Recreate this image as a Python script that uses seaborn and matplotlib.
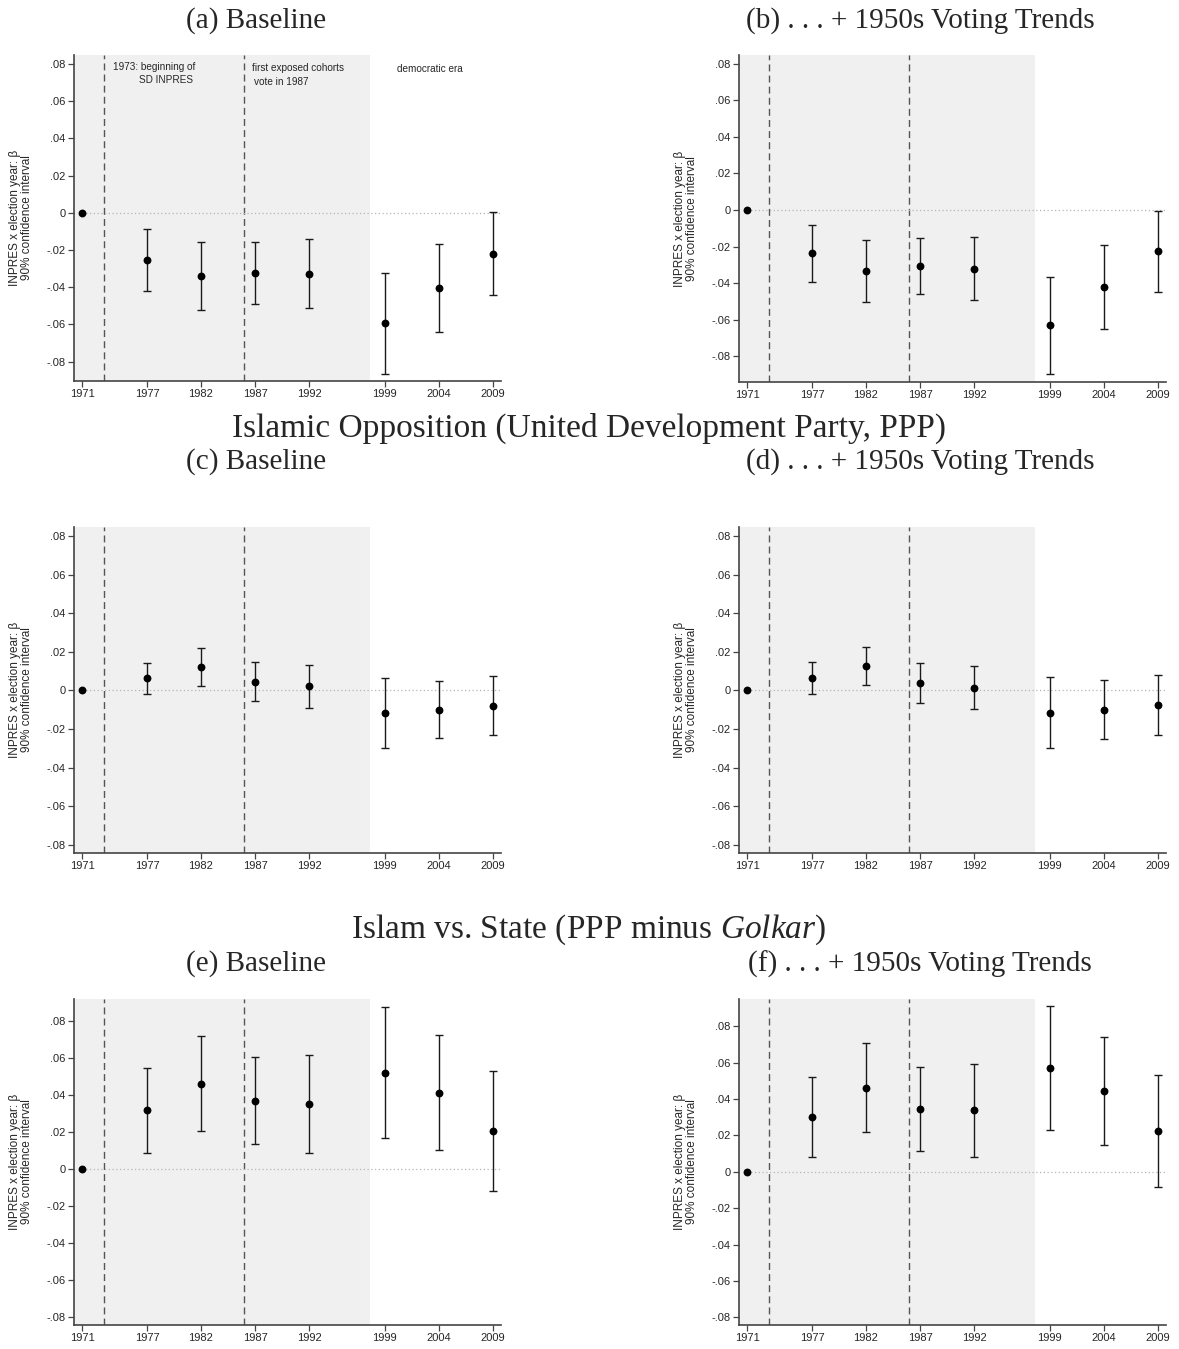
import numpy as np
import pandas as pd
import matplotlib
matplotlib.use("Agg")
import matplotlib.pyplot as plt
from matplotlib.ticker import FuncFormatter
import seaborn as sns

# DATA
years = [1971, 1977, 1982, 1987, 1992, 1999, 2004, 2009]

# (a) PPP baseline
a_coef = [0, -0.0253, -0.0341, -0.0323, -0.0328, -0.0594, -0.0404, -0.0221]
a_lo = [np.nan, -0.0420, -0.0524, -0.0488, -0.0511, -0.0866, -0.0640, -0.0443]
a_hi = [np.nan, -0.0086, -0.0158, -0.0158, -0.0142, -0.0321, -0.0167, 0.0002]
# (b) + 1950s voting trends
b_coef = [0, -0.0237, -0.0336, -0.0305, -0.0321, -0.0632, -0.0422, -0.0226]
b_lo = [np.nan, -0.0393, -0.0502, -0.0458, -0.0493, -0.0897, -0.0654, -0.0449]
b_hi = [np.nan, -0.0084, -0.0166, -0.0152, -0.0148, -0.0365, -0.0194, -0.0005]
# (c) Islamic opposition baseline
c_coef = [0, 0.0062, 0.0121, 0.0045, 0.0022, -0.0117, -0.0100, -0.0079]
c_lo = [np.nan, -0.0017, 0.0022, -0.0055, -0.0090, -0.0298, -0.0247, -0.0231]
c_hi = [np.nan, 0.0143, 0.0221, 0.0147, 0.0134, 0.0062, 0.0047, 0.0076]
# (d)
d_coef = [0, 0.0064, 0.0126, 0.0036, 0.0014, -0.0116, -0.0100, -0.0078]
d_lo = [np.nan, -0.0017, 0.0026, -0.0066, -0.0095, -0.0298, -0.0252, -0.0233]
d_hi = [np.nan, 0.0145, 0.0226, 0.0140, 0.0126, 0.0067, 0.0053, 0.0081]
# (e) Islam vs state baseline
e_coef = [0, 0.0315, 0.0459, 0.0368, 0.0348, 0.0519, 0.0411, 0.0204]
e_lo = [np.nan, 0.0085, 0.0204, 0.0133, 0.0083, 0.0164, 0.0101, -0.0121]
e_hi = [np.nan, 0.0544, 0.0717, 0.0602, 0.0614, 0.0876, 0.0724, 0.0530]
# (f)
f_coef = [0, 0.0300, 0.0461, 0.0342, 0.0337, 0.0568, 0.0441, 0.0222]
f_lo = [np.nan, 0.0081, 0.0218, 0.0112, 0.0081, 0.0231, 0.0148, -0.0086]
f_hi = [np.nan, 0.0522, 0.0707, 0.0573, 0.0593, 0.0908, 0.0738, 0.0529]

panel_titles = ["(a) Baseline", "(b) . . . + 1950s Voting Trends",
                "(c) Baseline", "(d) . . . + 1950s Voting Trends",
                "(e) Baseline", "(f) . . . + 1950s Voting Trends"]
group_titles = ["Islamic Opposition (United Development Party, PPP)",
                r"Islam vs. State (PPP minus $\mathit{Golkar}$)"]
ylab = "INPRES x election year: \u03b2\n90% confidence interval"

# STYLE
sns.set_style("ticks")
plt.rcParams["font.family"] = ["Liberation Sans", "DejaVu Sans"]
plt.rcParams["mathtext.fontset"] = "custom"
plt.rcParams["mathtext.rm"] = "Liberation Serif"
plt.rcParams["mathtext.it"] = "Liberation Serif:italic"

W, H = 1179, 1349
fig = plt.figure(figsize=(W / 100, H / 100), dpi=100)

panels = [
    (a_coef, a_lo, a_hi, 74, 55, 381, (-0.0904, 0.0848)),
    (b_coef, b_lo, b_hi, 739, 55, 382, (-0.0942, 0.0849)),
    (c_coef, c_lo, c_hi, 74, 527, 853, (-0.0843, 0.0847)),
    (d_coef, d_lo, d_hi, 739, 527, 853, (-0.0843, 0.0847)),
    (e_coef, e_lo, e_hi, 74, 999, 1325, (-0.0845, 0.0917)),
    (f_coef, f_lo, f_hi, 739, 999, 1325, (-0.0842, 0.0949)),
]

xlim = (1970.25, 2009.75)
fmt = FuncFormatter(lambda v, p: "0" if abs(v) < 1e-9 else f"{v:.2f}".replace("0.", "."))

axes = []
for coef, lo, hi, x0, top, bot, ylim in panels:
    ax = fig.add_axes([x0 / W, 1 - bot / H, 427 / W, (bot - top) / H])
    df = pd.DataFrame({"year": years, "coef": coef, "lo": lo, "hi": hi})

    # shaded autocratic period, program start and first exposed cohort
    ax.axvspan(xlim[0], 1997.6, color="#f0f0f0", lw=0, zorder=0)
    for xv in (1973, 1986):
        ax.axvline(xv, color="#555555", lw=1, ls=(0, (5, 3)), zorder=1)
    ax.hlines(0, years[0], xlim[1], color="#b5b5b5", lw=0.9, ls=(0, (1, 2)), zorder=1)

    ax.errorbar(df["year"], df["coef"], yerr=[df["coef"] - df["lo"], df["hi"] - df["coef"]],
                fmt="none", ecolor="#1a1a1a", elinewidth=1, capsize=2.6, capthick=1, zorder=2)
    sns.scatterplot(data=df, x="year", y="coef", ax=ax, color="black", s=32,
                    edgecolor="black", linewidth=0, zorder=3)

    ax.set_xlim(xlim)
    ax.set_ylim(ylim)
    ax.set_xticks(years)
    ax.set_yticks(np.arange(-0.08, 0.0801, 0.02))
    ax.yaxis.set_major_formatter(fmt)
    ax.tick_params(labelsize=8, length=4, width=0.9, color="#444444", pad=2)
    for s in ("top", "right"):
        ax.spines[s].set_visible(False)
    for s in ("left", "bottom"):
        ax.spines[s].set_color("#444444")
        ax.spines[s].set_linewidth(1.2)
    ax.set_xlabel("")
    ax.set_ylabel(ylab, fontsize=8.5, linespacing=0.95)
    ax.yaxis.set_label_coords(-0.097, 0.5)
    axes.append(ax)

# annotations in panel (a)
ax = axes[0]
ax.text(1977.67, 0.0784, "1973: beginning of", fontsize=7.2, ha="center", va="center")
ax.text(1978.78, 0.0714, "SD INPRES", fontsize=7.2, ha="center", va="center")
ax.text(1986.71, 0.0777, "first exposed cohorts", fontsize=7.2, ha="left", va="center")
ax.text(1986.87, 0.0705, "vote in 1987", fontsize=7.2, ha="left", va="center")
ax.text(2003.2, 0.0775, "democratic era", fontsize=7.2, ha="center", va="center")

# titles
serif = ["Liberation Serif", "DejaVu Serif"]
title_pos = [(256, 21), (920, 21), (256, 462), (920, 462), (256, 964), (920, 964)]
for (tx, ty), t in zip(title_pos, panel_titles):
    fig.text(tx / W, 1 - ty / H, t, family=serif, fontsize=21, ha="center", va="center")
for ty, t in zip((428, 930), group_titles):
    fig.text(589 / W, 1 - ty / H, t, family=serif, fontsize=24, ha="center", va="center")

fig.savefig("out.png", dpi=100)
